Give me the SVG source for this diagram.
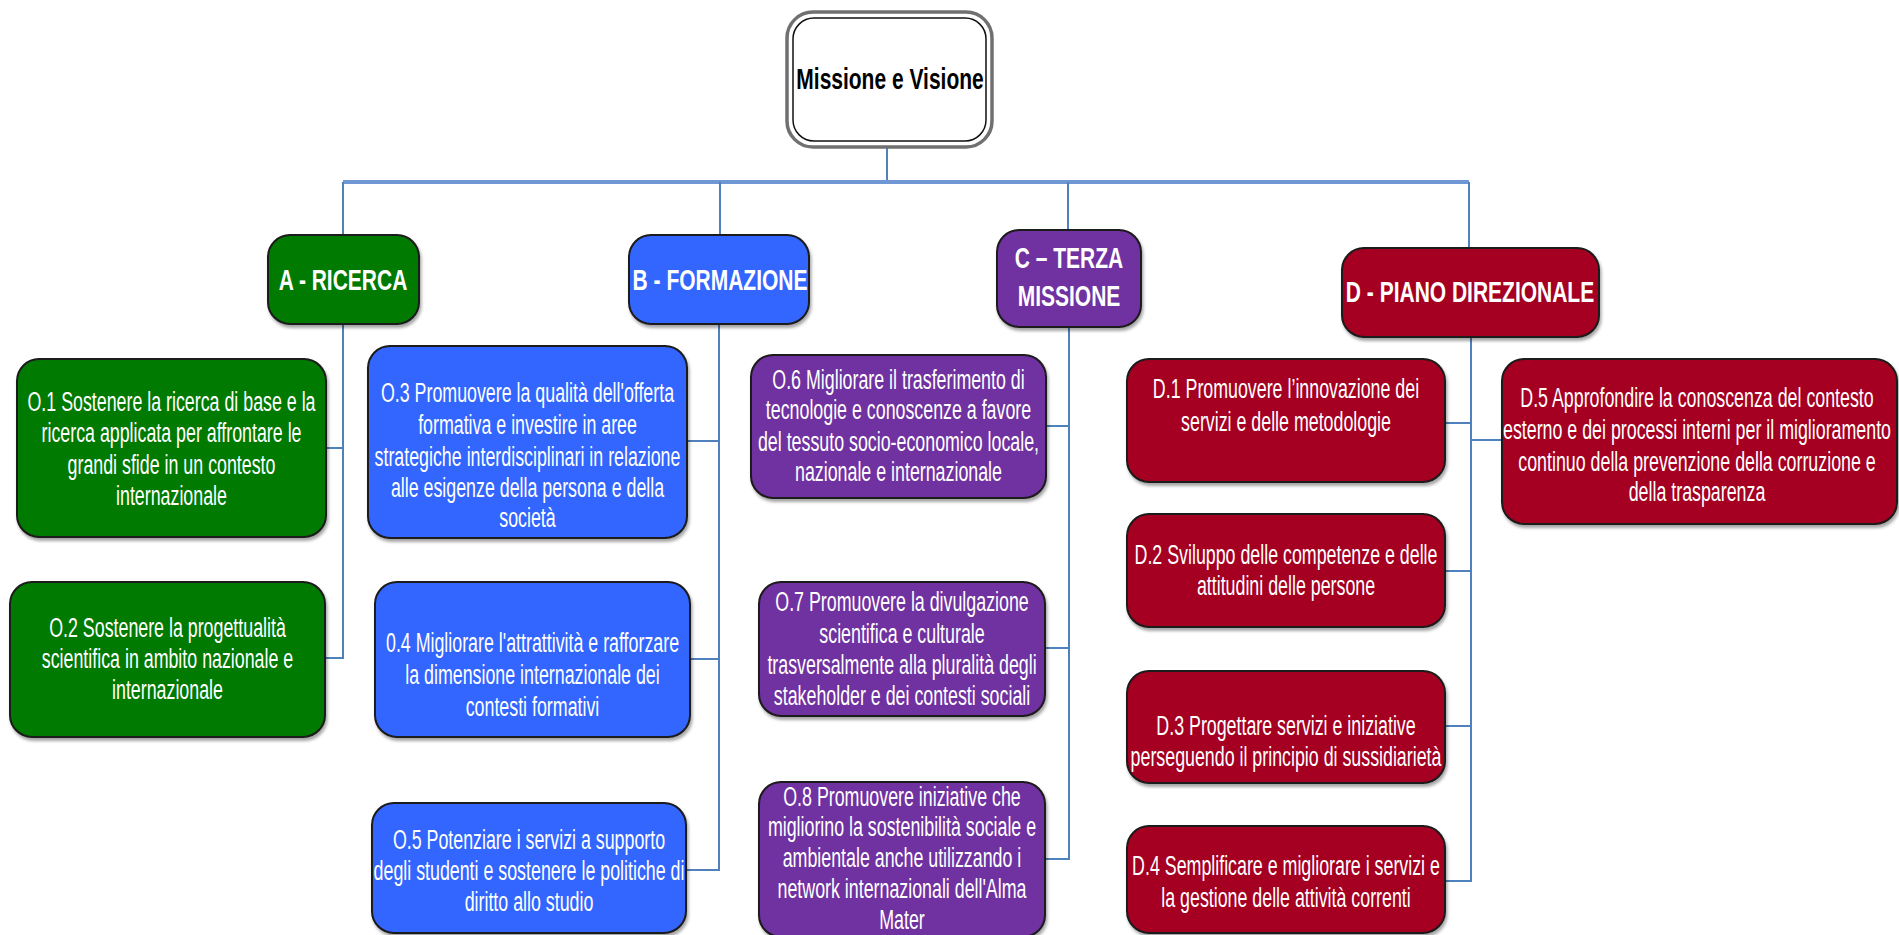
<svg xmlns="http://www.w3.org/2000/svg" width="1899" height="935" viewBox="0 0 1899 935">
<defs>
<filter id="sh" x="-10%" y="-10%" width="120%" height="125%">
<feDropShadow dx="1.5" dy="3" stdDeviation="1.5" flood-color="#000" flood-opacity="0.35"/>
</filter>
<style>
.c{stroke:#4F81BD;stroke-width:2;fill:none}
.ct{stroke:#6F97D3;stroke-width:4;fill:none}
.box{stroke:#1a1a1a;stroke-width:2;filter:url(#sh)}
.g{fill:#007A00}.bl{fill:#3366FF}.pu{fill:#7030A0}.rd{fill:#A50021}
.t{font-family:"Liberation Sans",Arial,sans-serif;font-size:27px;fill:#fff;text-anchor:middle}
.h{font-family:"Liberation Sans",Arial,sans-serif;font-size:30px;font-weight:bold;fill:#fff;text-anchor:middle}
.hk{fill:#000}
</style>
</defs>
<rect width="1899" height="935" fill="#fff"/>
<g id="connectors">
<line class="c" x1="887" y1="147" x2="887" y2="182"/>
<line class="ct" x1="343" y1="182" x2="1469" y2="182"/>
<line class="c" x1="343" y1="182" x2="343" y2="235"/>
<line class="c" x1="720" y1="182" x2="720" y2="235"/>
<line class="c" x1="1068" y1="182" x2="1068" y2="230"/>
<line class="c" x1="1469" y1="182" x2="1469" y2="248"/>
<polyline class="c" points="343,324 343,658 325,658"/>
<line class="c" x1="326" y1="448" x2="343" y2="448"/>
<polyline class="c" points="719,324 719,870 686,870"/>
<line class="c" x1="687" y1="441" x2="719" y2="441"/>
<line class="c" x1="690" y1="659" x2="719" y2="659"/>
<polyline class="c" points="1069,327 1069,859 1045,859"/>
<line class="c" x1="1046" y1="426" x2="1069" y2="426"/>
<line class="c" x1="1045" y1="648" x2="1069" y2="648"/>
<polyline class="c" points="1471,337 1471,881 1445,881"/>
<line class="c" x1="1445" y1="423" x2="1471" y2="423"/>
<line class="c" x1="1471" y1="440" x2="1502" y2="440"/>
<line class="c" x1="1445" y1="571" x2="1471" y2="571"/>
<line class="c" x1="1445" y1="726" x2="1471" y2="726"/>
</g>
<g id="missione">
<rect x="787" y="12" width="205" height="135" rx="26" fill="#fff" stroke="#707070" stroke-width="3.5"/>
<rect x="793" y="18" width="193" height="123" rx="21" fill="none" stroke="#111" stroke-width="1.5"/>
<text class="h hk" transform="translate(890 0) scale(0.7 1)"><tspan x="0" y="89">Missione e Visione</tspan></text>
</g>
<g id="A">
<rect class="box g" x="268" y="235" width="151" height="89" rx="22"/>
<text class="h" transform="translate(343 0) scale(0.7 1)"><tspan x="0" y="290">A - RICERCA</tspan></text>
</g>
<g id="B">
<rect class="box bl" x="629" y="235" width="180" height="89" rx="22"/>
<text class="h" transform="translate(720 0) scale(0.7 1)"><tspan x="0" y="290">B - FORMAZIONE</tspan></text>
</g>
<g id="C">
<rect class="box pu" x="997" y="230" width="144" height="97" rx="22"/>
<text class="h" transform="translate(1069 0) scale(0.7 1)"><tspan x="0" y="268">C – TERZA</tspan><tspan x="0" y="306">MISSIONE</tspan></text>
</g>
<g id="D">
<rect class="box rd" x="1342" y="248" width="257" height="89" rx="22"/>
<text class="h" transform="translate(1470 0) scale(0.7 1)"><tspan x="0" y="302">D - PIANO DIREZIONALE</tspan></text>
</g>
<g id="O1">
<rect class="box g" x="17" y="359" width="309" height="178" rx="22"/>
<text class="t" transform="translate(171.5 0) scale(0.66 1)"><tspan x="0" y="411">O.1 Sostenere la ricerca di base e la</tspan><tspan x="0" y="442">ricerca applicata per affrontare le</tspan><tspan x="0" y="474">grandi sfide in un contesto</tspan><tspan x="0" y="505">internazionale</tspan></text>
</g>
<g id="O2">
<rect class="box g" x="10" y="582" width="315" height="155" rx="22"/>
<text class="t" transform="translate(167.5 0) scale(0.66 1)"><tspan x="0" y="637">O.2 Sostenere la progettualità</tspan><tspan x="0" y="668">scientifica in ambito nazionale e</tspan><tspan x="0" y="699">internazionale</tspan></text>
</g>
<g id="O3">
<rect class="box bl" x="368" y="346" width="319" height="192" rx="22"/>
<text class="t" transform="translate(527.5 0) scale(0.66 1)"><tspan x="0" y="402">O.3 Promuovere la qualità dell'offerta</tspan><tspan x="0" y="434">formativa e investire in aree</tspan><tspan x="0" y="466">strategiche interdisciplinari in relazione</tspan><tspan x="0" y="497">alle esigenze della persona e della</tspan><tspan x="0" y="527">società</tspan></text>
</g>
<g id="O4">
<rect class="box bl" x="375" y="582" width="315" height="155" rx="22"/>
<text class="t" transform="translate(532.5 0) scale(0.66 1)"><tspan x="0" y="652">0.4 Migliorare l'attrattività e rafforzare</tspan><tspan x="0" y="684">la dimensione internazionale dei</tspan><tspan x="0" y="716">contesti formativi</tspan></text>
</g>
<g id="O5">
<rect class="box bl" x="372" y="803" width="314" height="130" rx="22"/>
<text class="t" transform="translate(529 0) scale(0.66 1)"><tspan x="0" y="849">O.5 Potenziare i servizi a supporto</tspan><tspan x="0" y="880">degli studenti e sostenere le politiche di</tspan><tspan x="0" y="911">diritto allo studio</tspan></text>
</g>
<g id="O6">
<rect class="box pu" x="751" y="355" width="295" height="143" rx="22"/>
<text class="t" transform="translate(898.5 0) scale(0.66 1)"><tspan x="0" y="389">O.6 Migliorare il trasferimento di</tspan><tspan x="0" y="419">tecnologie e conoscenze a favore</tspan><tspan x="0" y="451">del tessuto socio-economico locale,</tspan><tspan x="0" y="481">nazionale e internazionale</tspan></text>
</g>
<g id="O7">
<rect class="box pu" x="759" y="582" width="286" height="134" rx="22"/>
<text class="t" transform="translate(902 0) scale(0.66 1)"><tspan x="0" y="611">O.7 Promuovere la divulgazione</tspan><tspan x="0" y="643">scientifica e culturale</tspan><tspan x="0" y="674">trasversalmente alla pluralità degli</tspan><tspan x="0" y="705">stakeholder e dei contesti sociali</tspan></text>
</g>
<g id="O8">
<rect class="box pu" x="759" y="782" width="286" height="155" rx="22"/>
<text class="t" transform="translate(902 0) scale(0.66 1)"><tspan x="0" y="806">O.8 Promuovere iniziative che</tspan><tspan x="0" y="836">migliorino la sostenibilità sociale e</tspan><tspan x="0" y="867">ambientale anche utilizzando i</tspan><tspan x="0" y="898">network internazionali dell'Alma</tspan><tspan x="0" y="929">Mater</tspan></text>
</g>
<g id="D1">
<rect class="box rd" x="1127" y="359" width="318" height="123" rx="22"/>
<text class="t" transform="translate(1286 0) scale(0.66 1)"><tspan x="0" y="398">D.1 Promuovere l’innovazione dei</tspan><tspan x="0" y="431">servizi e delle metodologie</tspan></text>
</g>
<g id="D2">
<rect class="box rd" x="1127" y="514" width="318" height="113" rx="22"/>
<text class="t" transform="translate(1286 0) scale(0.66 1)"><tspan x="0" y="564">D.2 Sviluppo delle competenze e delle</tspan><tspan x="0" y="595">attitudini delle persone</tspan></text>
</g>
<g id="D3">
<rect class="box rd" x="1127" y="671" width="318" height="112" rx="22"/>
<text class="t" transform="translate(1286 0) scale(0.66 1)"><tspan x="0" y="735">D.3 Progettare servizi e iniziative</tspan><tspan x="0" y="766">perseguendo il principio di sussidiarietà</tspan></text>
</g>
<g id="D4">
<rect class="box rd" x="1127" y="826" width="318" height="107" rx="22"/>
<text class="t" transform="translate(1286 0) scale(0.66 1)"><tspan x="0" y="875">D.4 Semplificare e migliorare i servizi e</tspan><tspan x="0" y="907">la gestione delle attività correnti</tspan></text>
</g>
<g id="D5">
<rect class="box rd" x="1502" y="359" width="395" height="165" rx="22"/>
<text class="t" transform="translate(1697 0) scale(0.66 1)"><tspan x="0" y="407">D.5 Approfondire la conoscenza del contesto</tspan><tspan x="0" y="439">esterno e dei processi interni per il miglioramento</tspan><tspan x="0" y="471">continuo della prevenzione della corruzione e</tspan><tspan x="0" y="501">della trasparenza</tspan></text>
</g>
</svg>
